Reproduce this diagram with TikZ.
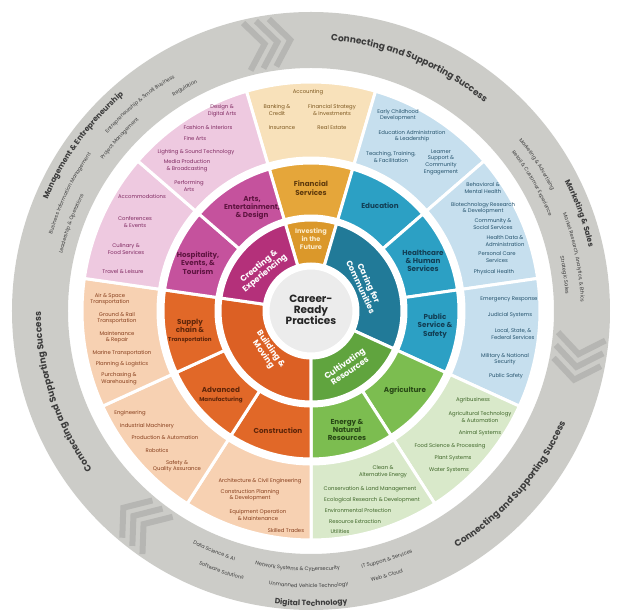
\documentclass[tikz,border=0pt]{standalone}
\usepackage{fontspec}
\setmainfont{Poppins}
\usetikzlibrary{decorations.text}

\definecolor{ringgray}{RGB}{204,204,200}
\definecolor{chevgray}{RGB}{182,182,179}
\definecolor{arcink}{RGB}{60,60,60}
\definecolor{hubgray}{RGB}{236,236,236}
% outer (pathway) ring
\definecolor{ppink}{RGB}{238,201,224}
\definecolor{pbeige}{RGB}{248,225,186}
\definecolor{pblue}{RGB}{198,223,238}
\definecolor{pgreen}{RGB}{217,233,202}
\definecolor{ppeach}{RGB}{247,209,178}
% cluster ring
\definecolor{mpink}{RGB}{197,82,157}
\definecolor{mgold}{RGB}{229,166,58}
\definecolor{mblue}{RGB}{44,160,196}
\definecolor{mgreen}{RGB}{124,189,80}
\definecolor{morange}{RGB}{225,104,40}
% theme ring
\definecolor{ipink}{RGB}{180,48,122}
\definecolor{igold}{RGB}{219,152,42}
\definecolor{iblue}{RGB}{33,122,152}
\definecolor{igreen}{RGB}{96,164,62}
\definecolor{iorange}{RGB}{220,96,36}
% inks
\definecolor{pinkink}{RGB}{128,42,98}
\definecolor{beigeink}{RGB}{125,88,32}
\definecolor{blueink}{RGB}{36,82,108}
\definecolor{greenink}{RGB}{62,102,40}
\definecolor{peachink}{RGB}{135,62,28}
\definecolor{mpinkink}{RGB}{95,20,65}
\definecolor{mgoldink}{RGB}{95,58,12}
\definecolor{mblueink}{RGB}{18,62,84}
\definecolor{mgreenink}{RGB}{40,72,22}
\definecolor{morangeink}{RGB}{95,38,10}
\definecolor{cream}{RGB}{252,236,204}

\newcommand\bigarc{\fontsize{9}{10}\selectfont\bfseries}
\newcommand\catarc{\fontsize{7.6}{8}\selectfont\bfseries}
\newcommand\tinyarc{\fontsize{5.1}{6}\selectfont}

% annular piece: [style](from:to:inner:outer)
\def\ringpart[#1](#2:#3:#4:#5){\filldraw[#1,draw=white,line width=3pt] (#2:#5pt) arc (#2:#3:#5pt) -- (#3:#4pt) arc (#3:#2:#4pt) -- cycle;}
% text on the gray ring, clockwise (tops out) and counterclockwise (tops in)
\def\cwlabel#1#2#3#4{\pgfmathsetmacro\angA{#1+50}\pgfmathsetmacro\angB{#1-50}%
  \path[decorate,decoration={text along path,text align=center,text color=arcink,text={|#3|#4}}] (\angA:#2pt) arc (\angA:\angB:#2pt);}
\def\ccwlabel#1#2#3#4{\pgfmathsetmacro\angA{#1-50}\pgfmathsetmacro\angB{#1+50}%
  \path[decorate,decoration={text along path,text align=center,text color=arcink,text={|#3|#4}}] (\angA:#2pt) arc (\angA:\angB:#2pt);}
\def\chevrons#1{\begin{scope}[shift={(#1:271pt)},rotate=#1-90]
  \foreach \d in {-13,0,13} \draw[chevgray,line width=6pt,line join=miter] (\d-9,24) -- (\d+9,0) -- (\d-9,-24);
  \end{scope}}

\tikzset{
  item/.style={font=\fontsize{5.3}{6.6}\selectfont, align=center, inner sep=0pt},
  cluster/.style={font=\fontsize{7.2}{8.3}\selectfont\bfseries, align=center, inner sep=0pt},
  theme/.style={font=\fontsize{8.2}{9}\selectfont\bfseries, align=center, inner sep=0pt, text=white},
}

\begin{document}
\begin{tikzpicture}[x=1pt,y=1pt]
\useasboundingbox (-311,-304) rectangle (308,311);
\fill[white] (-311,-304) rectangle (308,311);

%%%%% gray ring %%%%%
\fill[ringgray, even odd rule] (0,0) circle (299pt) (0,0) circle (243pt);
\chevrons{99}
\chevrons{-10}
\chevrons{231}

\cwlabel{68}{271}{\bigarc}{Connecting and Supporting Success}
\cwlabel{198}{270}{\bigarc}{Connecting and Supporting Success}
\ccwlabel{-41}{278}{\bigarc}{Connecting and Supporting Success}

\cwlabel{144}{286}{\catarc}{Management {\&} Entrepreneurship}
\cwlabel{129.6}{270}{\tinyarc}{Entrepreneurship {\&} Small Business}
\cwlabel{119.5}{255}{\tinyarc}{Regulation}
\cwlabel{138}{257}{\tinyarc}{Project Management}
\cwlabel{154}{270}{\tinyarc}{Business Information Management}
\cwlabel{160}{255}{\tinyarc}{Leadership {\&} Operations}

\cwlabel{20}{285}{\catarc}{Marketing {\&} Sales}
\cwlabel{33}{269}{\tinyarc}{Marketing {\&} Advertising}
\cwlabel{30}{256}{\tinyarc}{Retail {\&} Customer Experience}
\cwlabel{11.5}{270}{\tinyarc}{Market Research, Analytics, {\&} Ethics}
\cwlabel{8}{255}{\tinyarc}{Strategic Sales}

\ccwlabel{270}{295}{\catarc}{Digital Technology}
\ccwlabel{248}{261}{\tinyarc}{Data Science {\&} AI}
\ccwlabel{251}{277}{\tinyarc}{Software Solutions}
\ccwlabel{267}{260}{\tinyarc}{Network Systems {\&} Cybersecurity}
\ccwlabel{269.5}{277}{\tinyarc}{Unmanned Vehicle Technology}
\ccwlabel{287}{262}{\tinyarc}{IT Support {\&} Services}
\ccwlabel{286}{277}{\tinyarc}{Web {\&} Cloud}

%%%%% pathway and cluster rings %%%%%
\foreach \pc/\mc [count=\i from 0] in {pbeige/mgold, pblue/mblue, pblue/mblue, pblue/mblue, pgreen/mgreen, pgreen/mgreen, ppeach/morange, ppeach/morange, ppeach/morange, ppink/mpink, ppink/mpink} {
  \pgfmathsetmacro\a{73.636-\i*32.727}
  \pgfmathsetmacro\b{\a+32.727}
  \ringpart[fill=\pc](\a:\b:153:229)
  \ringpart[fill=\mc](\a:\b:95:148)
}

%%%%% theme ring %%%%%
\ringpart[fill=igold](73.636:106.364:47:91)
\ringpart[fill=iblue](-24.545:73.636:47:91)
\ringpart[fill=igreen](-90:-24.545:47:91)
\ringpart[fill=iorange](171.818:270:47:91)
\ringpart[fill=ipink](106.364:171.818:47:91)
\filldraw[fill=hubgray, draw=white, line width=3pt] (0,0) circle (43pt);

\node[font=\fontsize{10.5}{11.2}\selectfont\bfseries, align=center, text=black!85] (hub) at (0,1) {Career-\\Ready\\Practices};

\node[theme, text=cream, font=\fontsize{6.6}{8}\selectfont\bfseries] (investing) at (0,72) {Investing\\in the\\Future};
\node[theme, rotate=-65] (caring) at (54,26) {Caring for\\Communities};
\node[theme, rotate=35] (cultivating) at (36,-56) {Cultivating\\Resources};
\node[theme, rotate=-55] (building) at (-44,-41) {Building \&\\Moving};
\node[theme, rotate=40] (creating) at (-49,41) {Creating \&\\Experiencing};

%%%%% cluster labels %%%%%
\node[cluster, text=mgoldink] (financial) at (0,123) {Financial\\Services};
\node[cluster, text=mblueink] (education) at (69,105) {Education};
\node[cluster, text=mblueink] (healthcare) at (112,50) {Healthcare\\\& Human\\Services};
\node[cluster, text=mblueink] (publicservice) at (124,-15) {Public\\Service \&\\Safety};
\node[cluster, text=mgreenink] (agriculture) at (94,-80) {Agriculture};
\node[cluster, text=mgreenink] (energy) at (36,-119) {Energy \&\\Natural\\Resources};
\node[cluster, text=morangeink] (construction) at (-33,-120) {Construction};
\node[cluster, text=morangeink] (manufacturing) at (-90,-84) {Advanced\\{\fontsize{5.6}{6.5}\selectfont Manufacturing}};
\node[cluster, text=morangeink] (supplychain) at (-121,-20) {Supply\\chain \&\\{\fontsize{5.6}{6.5}\selectfont Transportation}};
\node[cluster, text=mpinkink] (hospitality) at (-113,48) {Hospitality,\\Events, \&\\Tourism};
\node[cluster, text=mpinkink] (arts) at (-59,103) {Arts,\\Entertainment,\\\& Design};

%%%%% pathway labels %%%%%
\node[item, text=beigeink] (accounting) at (-3,219) {Accounting};
\node[item, text=beigeink] (banking) at (-34,201) {Banking \&\\Credit};
\node[item, text=beigeink] (finstrategy) at (21,201) {Financial Strategy\\\& Investments};
\node[item, text=beigeink] (insurance) at (-29,183) {Insurance};
\node[item, text=beigeink] (realestate) at (21,183) {Real Estate};

\node[item, text=pinkink] (design) at (-89,200) {Design \&\\Digital Arts};
\node[item, text=pinkink] (fashion) at (-103,183) {Fashion \& Interiors};
\node[item, text=pinkink] (finearts) at (-116,172) {Fine Arts};
\node[item, text=pinkink] (lighting) at (-115,159) {Lighting \& Sound Technology};
\node[item, text=pinkink] (media) at (-124,145) {Media Production\\\& Broadcasting};
\node[item, text=pinkink] (performing) at (-122,125) {Performing\\Arts};

\node[item, text=pinkink] (accommodations) at (-169,114) {Accommodations};
\node[item, text=pinkink] (conferences) at (-176,89) {Conferences\\\& Events};
\node[item, text=pinkink] (culinary) at (-185,62) {Culinary \&\\Food Services};
\node[item, text=pinkink] (travel) at (-188,39) {Travel \& Leisure};

\node[item, text=peachink] (airspace) at (-201,12) {Air \& Space\\Transportation};
\node[item, text=peachink] (groundrail) at (-194,-7) {Ground \& Rail\\Transportation};
\node[item, text=peachink] (maintenance) at (-194,-26) {Maintenance\\\& Repair};
\node[item, text=peachink] (marine) at (-189,-42) {Marine Transportation};
\node[item, text=peachink] (planning) at (-189,-53) {Planning \& Logistics};
\node[item, text=peachink] (purchasing) at (-192,-68) {Purchasing \&\\Warehousing};

\node[item, text=peachink] (engineering) at (-181,-102) {Engineering};
\node[item, text=peachink] (machinery) at (-164,-115) {Industrial Machinery};
\node[item, text=peachink] (production) at (-146,-127) {Production \& Automation};
\node[item, text=peachink] (robotics) at (-154,-140) {Robotics};
\node[item, text=peachink] (quality) at (-134,-155) {Safety \&\\Quality Assurance};

\node[item, text=peachink] (architecture) at (-51,-170) {Architecture \& Civil Engineering};
\node[item, text=peachink] (constplanning) at (-61,-184) {Construction Planning\\\& Development};
\node[item, text=peachink] (equipment) at (-53,-204) {Equipment Operation\\\& Maintenance};
\node[item, text=peachink] (trades) at (-25,-220) {Skilled Trades};

\node[item, text=greenink] (clean) at (72,-161) {Clean \&\\Alternative Energy};
\node[item, text=greenink] (conservation) at (59,-178) {Conservation \& Land Management};
\node[item, text=greenink] (ecological) at (61,-189) {Ecological Research \& Development};
\node[item, text=greenink] (environmental) at (47,-200) {Environmental Protection};
\node[item, text=greenink] (extraction) at (44,-211) {Resource Extraction};
\node[item, text=greenink] (utilities) at (29,-221) {Utilities};

\node[item, text=greenink] (agribusiness) at (162,-89) {Agribusiness};
\node[item, text=greenink] (agtech) at (169,-106) {Agricultural Technology\\\& Automation};
\node[item, text=greenink] (animal) at (169,-122) {Animal Systems};
\node[item, text=greenink] (food) at (139,-135) {Food Science \& Processing};
\node[item, text=greenink] (plant) at (142,-147) {Plant Systems};
\node[item, text=greenink] (water) at (138,-159) {Water Systems};

\node[item, text=blueink] (emergency) at (198,12) {Emergency Response};
\node[item, text=blueink] (judicial) at (199,-4) {Judicial Systems};
\node[item, text=blueink] (federal) at (202,-23) {Local, State, \&\\Federal Services};
\node[item, text=blueink] (military) at (194,-48) {Military \& National\\Security};
\node[item, text=blueink] (publicsafety) at (195,-65) {Public Safety};

\node[item, text=blueink] (behavioral) at (172,123) {Behavioral \&\\Mental Health};
\node[item, text=blueink] (biotech) at (172,103) {Biotechnology Research\\\& Development};
\node[item, text=blueink] (community) at (182,87) {Community \&\\Social Services};
\node[item, text=blueink] (healthdata) at (194,70) {Health Data \&\\Administration};
\node[item, text=blueink] (personal) at (186,54) {Personal Care\\Services};
\node[item, text=blueink] (physical) at (183,39) {Physical Health};

\node[item, text=blueink] (childhood) at (87,196) {Early Childhood\\Development};
\node[item, text=blueink] (eduadmin) at (101,175) {Education Administration\\\& Leadership};
\node[item, text=blueink] (teaching) at (80,154) {Teaching, Training,\\\& Facilitation};
\node[item, text=blueink] (learner) at (130,149) {Learner\\Support \&\\Community\\Engagement};
\end{tikzpicture}
\end{document}
